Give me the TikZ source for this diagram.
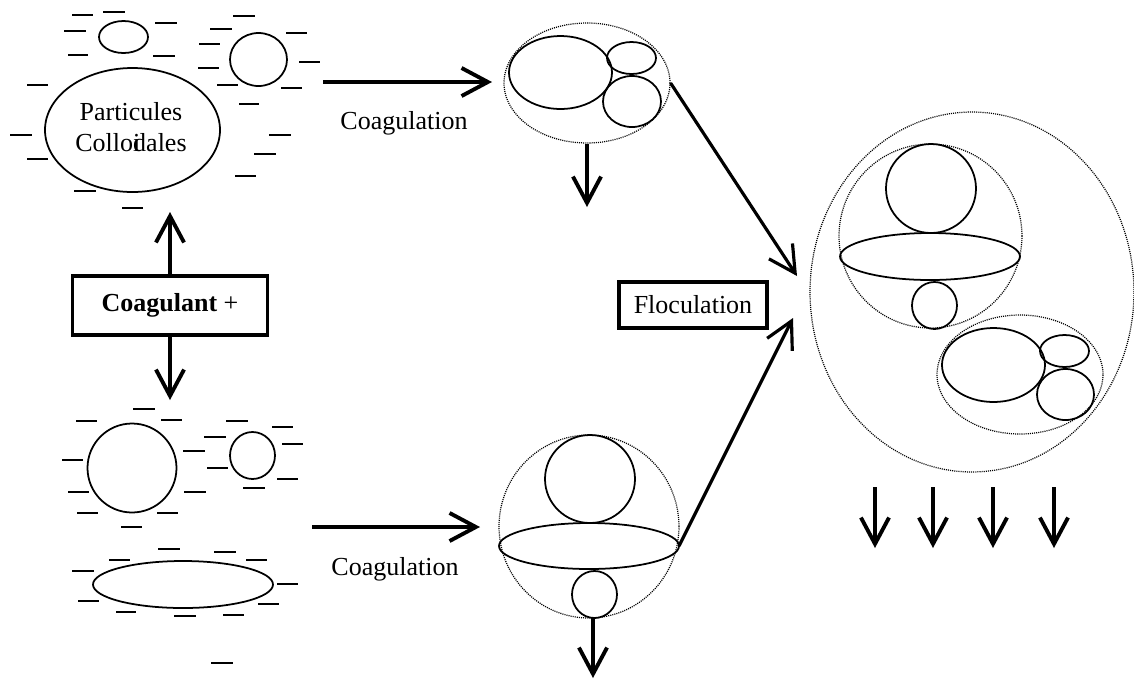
\documentclass[tikz,border=0pt]{standalone}
\usepackage{fontspec}
\setmainfont{Liberation Serif}
\usetikzlibrary{arrows.meta,shapes.geometric}

\tikzset{
  particle/.style={line width=1pt},
  aggregate/.style={draw, ellipse, inner sep=0pt, line width=0.7pt, dash pattern=on 0.6pt off 0.6pt},
  charge/.style={line width=1pt},
  flow/.style={line width=2.2pt, -{Straight Barb[length=15pt,width=16pt]}},
  txt/.style={font=\fontsize{14.8}{17.6}\selectfont, inner sep=0pt},
  box/.style={draw, line width=2.2pt, inner sep=0pt, font=\fontsize{14.8}{17.6}\selectfont}
}

\begin{document}
\begin{tikzpicture}[x=0.02cm, y=-0.02cm]
        \useasboundingbox (0,0) rectangle (1134,681);
        % Draw colloids before the coagulant (top left)
        \draw[particle] (132.5,130) ellipse (87.5 and 62);
        \draw[particle] (123.5,37) ellipse (24.5 and 16);
        \draw[particle] (258.5,59.5) ellipse (28.5 and 26.5);
        \node[txt, align=center] (colloid) at (131,127.5) {Particules\\Collo\rlap{i}dales};
        % Draw negative charges round them
        \draw[charge] (72,15) -- (93,15) (103,12) -- (125,12) (155,23) -- (177,23)
            (64,31) -- (86,31) (68,55) -- (88,55) (153,56) -- (175,56)
            (233,16) -- (255,16) (210,29) -- (232,29) (286,33) -- (307,33)
            (199,44) -- (220,44) (299,62) -- (320,62) (198,68) -- (219,68)
            (217,85) -- (238,85) (281,88) -- (302,88) (27,85) -- (48,85)
            (239,104) -- (259,104) (10,135) -- (32,135) (269,135) -- (291,135)
            (27,159) -- (48,159) (254,154) -- (276,154) (235,176) -- (256,176)
            (74,191) -- (96,191) (122,208) -- (143,208);
        % Draw colloids (bottom left)
        \draw[particle] (132,468) ellipse (44.5 and 44.5);
        \draw[particle] (252.5,455.5) ellipse (22.5 and 23.5);
        \draw[particle] (183,584.5) ellipse (90 and 23.5);
        \draw[charge] (133,409) -- (155,409) (76,421) -- (97,421) (161,420) -- (182,420)
            (226,421) -- (248,421) (272,427) -- (293,427) (62,460) -- (83,460)
            (183,451) -- (205,451) (204,437) -- (226,437) (282,444) -- (303,444)
            (207,468) -- (228,468) (68,492) -- (89,492) (184,492) -- (206,492)
            (277,479) -- (298,479) (243,488) -- (265,488) (77,513) -- (98,513)
            (157,513) -- (178,513) (121,527) -- (142,527) (158,549) -- (180,549)
            (214,552) -- (236,552) (109,560) -- (130,560) (246,560) -- (267,560)
            (72,571) -- (94,571) (277,584) -- (298,584) (78,601) -- (99,601)
            (258,604) -- (279,604) (116,612) -- (136,612) (174,616) -- (196,616)
            (223,615) -- (244,615) (211,663) -- (233,663);
        % Coagulant box and its arrows
        \node[box, minimum width=3.9cm, minimum height=1.18cm] (coag) at (170,305.5) {\textbf{Coagulant} +};
        \coordinate (up) at (170,212);
        \coordinate (down) at (170,400);
        \draw[flow] (coag.north) -- (up);
        \draw[flow] (coag.south) -- (down);
        % Coagulation arrows
        \coordinate (coagA) at (323,82);
        \coordinate (intoA) at (492,82);
        \draw[flow] (coagA) -- (intoA);
        \node[txt] (coagtxtA) at (404,123) {Coagulation};
        \coordinate (coagB) at (312,527);
        \coordinate (intoB) at (480,527);
        \draw[flow] (coagB) -- (intoB);
        \node[txt] (coagtxtB) at (395,569) {Coagulation};
        % Draw first aggregate (top middle)
        \node[aggregate, minimum width=3.32cm, minimum height=2.4cm] (aggA) at (587,83) {};
        \draw[particle] (560.5,72.5) ellipse (51.5 and 36.5);
        \draw[particle] (631.5,58) ellipse (24.5 and 16);
        \draw[particle] (632,101.5) ellipse (29 and 25.5);
        \coordinate (sinkA) at (587,207);
        \draw[flow] (aggA.south) -- (sinkA);
        % Draw second aggregate (bottom middle)
        \node[aggregate, minimum width=3.6cm, minimum height=3.66cm] (aggB) at (589,526.5) {};
        \draw[particle] (590,479) ellipse (45 and 44);
        \draw[particle] (589,546) ellipse (90 and 23);
        \draw[particle] (594.5,594.5) ellipse (22.5 and 23.5);
        \coordinate (discB) at (679,546);
        \coordinate (baseB) at (593,618);
        \coordinate (sinkB) at (593,678);
        \draw[flow] (baseB) -- (sinkB);
        % Floculation
        \node[box, minimum width=2.96cm, minimum height=0.92cm] (floc) at (693,305) {Floculation};
        \coordinate (inA) at (797,276);
        \coordinate (inB) at (793,318);
        \draw[flow, line width=1.8pt] (aggA.east) -- (inA);
        \draw[flow, line width=1.8pt] (discB) -- (inB);
        % Draw the floc (right)
        \node[aggregate, minimum width=6.48cm, minimum height=7.2cm] (flocs) at (972,292) {};
        \node[aggregate, minimum width=3.66cm, minimum height=3.68cm] (subB) at (930.5,236) {};
        \draw[particle] (931,188.5) ellipse (45 and 44.5);
        \draw[particle] (930,256.5) ellipse (90 and 23.5);
        \draw[particle] (934.5,305.5) ellipse (22.5 and 23.5);
        \node[aggregate, minimum width=3.32cm, minimum height=2.38cm] (subA) at (1020,374.5) {};
        \draw[particle] (993.5,365) ellipse (51.5 and 37);
        \draw[particle] (1064.5,351) ellipse (24.5 and 16);
        \draw[particle] (1065.5,394.5) ellipse (28.5 and 25.5);
        % Settling arrows
        \coordinate (drop1) at (875,487);
        \coordinate (drop2) at (933,487);
        \coordinate (drop3) at (993,487);
        \coordinate (drop4) at (1054,487);
        \coordinate (settle1) at (875,548);
        \coordinate (settle2) at (933,548);
        \coordinate (settle3) at (993,548);
        \coordinate (settle4) at (1054,548);
        \draw[flow] (drop1) -- (settle1);
        \draw[flow] (drop2) -- (settle2);
        \draw[flow] (drop3) -- (settle3);
        \draw[flow] (drop4) -- (settle4);
    \end{tikzpicture}
\end{document}
